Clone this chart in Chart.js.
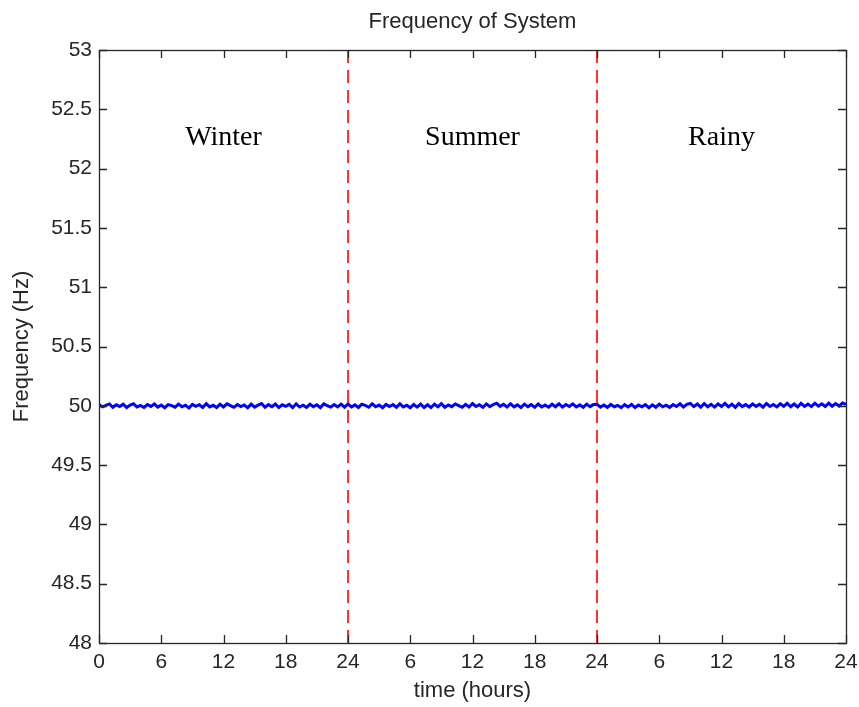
<!DOCTYPE html>
<html>
<head>
<meta charset="utf-8">
<script src="https://cdn.jsdelivr.net/npm/chart.js@4.4.1/dist/chart.umd.min.js"></script>
<style>
  html, body { margin: 0; padding: 0; background: #ffffff; }
  #wrap { width: 859px; height: 707px; }
</style>
</head>
<body>
<div id="wrap"><canvas id="c" width="859" height="707"></canvas></div>
<script>
// Frequency samples every 20 minutes, one array per season (Hz)
const winterFreq = [
  50.012, 49.991, 50.004, 50.016, 49.987, 50.008, 49.994, 50.013, 49.985, 50.006, 50.017, 49.990,
  50.003, 49.986, 50.011, 49.995, 50.015, 49.989, 50.007, 49.984, 50.010, 50.002, 49.988, 50.014,
  49.992, 50.005, 49.982, 50.012, 49.996, 50.009, 49.986, 50.018, 49.991, 50.004, 49.985, 50.013,
  49.990, 50.016, 50.001, 49.987, 50.011, 49.993, 50.007, 49.983, 50.014, 49.989, 50.006, 50.019,
  49.988, 50.010, 49.992, 50.015, 49.986, 50.008, 49.995, 50.012, 49.984, 50.017, 49.990, 50.005,
  49.987, 50.013, 49.993, 50.009, 49.985, 50.016, 50.002, 49.989, 50.011, 49.991, 50.014, 49.988];
const summerFreq = [
  50.015, 49.990, 50.008, 49.986, 50.013, 50.003, 49.988, 50.017, 49.992, 50.006, 49.984, 50.012,
  49.994, 50.010, 49.987, 50.016, 49.991, 50.005, 49.983, 50.011, 49.989, 50.014, 49.986, 50.009,
  49.985, 50.013, 49.992, 50.018, 49.988, 50.007, 49.993, 50.015, 50.001, 49.987, 50.012, 49.990,
  50.019, 49.994, 50.009, 49.988, 50.016, 49.992, 50.011, 50.022, 49.995, 50.013, 49.989, 50.017,
  49.991, 50.008, 49.986, 50.014, 49.993, 50.010, 49.987, 50.015, 49.990, 50.006, 49.988, 50.013,
  49.992, 50.017, 49.989, 50.011, 49.994, 50.016, 49.990, 50.008, 49.987, 50.014, 49.993, 50.012];
const rainyFreq = [
  50.013, 49.989, 50.007, 49.986, 50.011, 49.992, 50.004, 49.984, 50.009, 49.990, 50.012, 49.985,
  50.006, 49.991, 50.010, 49.983, 50.008, 49.988, 50.014, 49.992, 50.005, 49.987, 50.011, 49.994,
  50.017, 49.990, 50.013, 50.021, 49.993, 50.015, 49.988, 50.019, 49.992, 50.012, 49.989, 50.016,
  49.994, 50.020, 49.991, 50.014, 49.987, 50.018, 49.993, 50.010, 49.990, 50.016, 49.995, 50.013,
  49.989, 50.019, 49.994, 50.011, 49.991, 50.017, 49.996, 50.021, 49.992, 50.015, 49.990, 50.020,
  49.995, 50.014, 49.993, 50.022, 49.997, 50.017, 49.994, 50.023, 49.996, 50.019, 49.998, 50.024, 50.012];

const chartTitle = 'Frequency of System';
const seasons = ['Winter', 'Summer', 'Rainy'];
const seasonBoundaries = [24, 48];
const xTickValues = [0, 6, 12, 18, 24, 30, 36, 42, 48, 54, 60, 66, 72];
const xTickLabels = ['0', '6', '12', '18', '24', '6', '12', '18', '24', '6', '12', '18', '24'];
const yTickValues = [48, 48.5, 49, 49.5, 50, 50.5, 51, 51.5, 52, 52.5, 53];

// Continuous time axis: each season spans 24 hours
const step = 1 / 3;
const freqPoints = [];
[winterFreq, summerFreq, rainyFreq].forEach((arr, s) => {
  arr.forEach((v, i) => freqPoints.push({ x: s * 24 + i * step, y: v }));
});

const boundaryDatasets = seasonBoundaries.map(b => ({
  data: [{ x: b, y: 48 }, { x: b, y: 53 }],
  borderColor: '#ff0000',
  borderWidth: 1.6,
  borderDash: [13, 7],
  pointRadius: 0,
  fill: false,
  order: 0
}));

const AXIS = '#262626';
const SANS = '"Liberation Sans", Arial, sans-serif';

// Box around the plot with inward-facing tick marks, the title centred over
// the plot area, and the season captions
const frame = {
  id: 'frame',
  afterDatasetsDraw(chart) {
    const { ctx, chartArea: a, scales: { x, y } } = chart;
    ctx.save();
    ctx.strokeStyle = AXIS;
    ctx.lineWidth = 1.3;
    ctx.strokeRect(Math.round(a.left) + 0.5, Math.round(a.top) + 0.5,
      Math.round(a.right) - Math.round(a.left), Math.round(a.bottom) - Math.round(a.top));
    const tl = 8;
    ctx.beginPath();
    xTickValues.forEach(v => {
      const px = Math.round(x.getPixelForValue(v)) + 0.5;
      ctx.moveTo(px, a.bottom); ctx.lineTo(px, a.bottom - tl);
      ctx.moveTo(px, a.top); ctx.lineTo(px, a.top + tl);
    });
    yTickValues.forEach(v => {
      const py = Math.round(y.getPixelForValue(v)) + 0.5;
      ctx.moveTo(a.left, py); ctx.lineTo(a.left + tl, py);
      ctx.moveTo(a.right, py); ctx.lineTo(a.right - tl, py);
    });
    ctx.stroke();

    ctx.textAlign = 'center';
    ctx.textBaseline = 'middle';
    ctx.fillStyle = AXIS;
    ctx.font = '22px ' + SANS;
    ctx.fillText(chartTitle, (a.left + a.right) / 2, 22);

    ctx.fillStyle = '#000000';
    ctx.font = '28px "Liberation Serif", "Times New Roman", serif';
    seasons.forEach((name, i) => {
      ctx.fillText(name, x.getPixelForValue(i * 24 + 12), y.getPixelForValue(52.26));
    });
    ctx.restore();
  }
};

new Chart(document.getElementById('c'), {
  type: 'line',
  data: {
    datasets: [
      {
        data: freqPoints,
        borderColor: '#0000ff',
        borderWidth: 3,
        pointRadius: 0,
        tension: 0,
        fill: false,
        order: 1
      },
      ...boundaryDatasets
    ]
  },
  options: {
    responsive: false,
    animation: false,
    devicePixelRatio: 1,
    layout: { padding: { left: 0, right: 13, top: 50, bottom: 0 } },
    plugins: {
      legend: { display: false },
      tooltip: { enabled: false },
      title: { display: false }
    },
    scales: {
      x: {
        type: 'linear',
        min: 0,
        max: 72,
        afterFit(s) { s.height = 64; s.paddingLeft = 0; s.paddingRight = 0; },
        afterBuildTicks(s) { s.ticks = xTickValues.map(v => ({ value: v })); },
        grid: { display: false, drawTicks: false },
        border: { display: false },
        ticks: {
          color: AXIS,
          padding: 7,
          maxRotation: 0,
          autoSkip: false,
          font: { family: SANS, size: 21 },
          callback: (v, i) => xTickLabels[i]
        },
        title: {
          display: true,
          text: 'time (hours)',
          color: AXIS,
          font: { family: SANS, size: 22 },
          padding: { top: 0, bottom: 3 }
        }
      },
      y: {
        type: 'linear',
        min: 48,
        max: 53,
        afterFit(s) { s.width = 99; s.paddingTop = 0; s.paddingBottom = 0; },
        afterBuildTicks(s) { s.ticks = yTickValues.map(v => ({ value: v })); },
        grid: { display: false, drawTicks: false },
        border: { display: false },
        ticks: {
          color: AXIS,
          padding: 7,
          autoSkip: false,
          font: { family: SANS, size: 21 },
          callback: v => String(v)
        },
        title: {
          display: true,
          text: 'Frequency (Hz)',
          color: AXIS,
          font: { family: SANS, size: 22 },
          padding: { top: 9, bottom: 0 }
        }
      }
    }
  },
  plugins: [frame]
});
</script>
</body>
</html>
